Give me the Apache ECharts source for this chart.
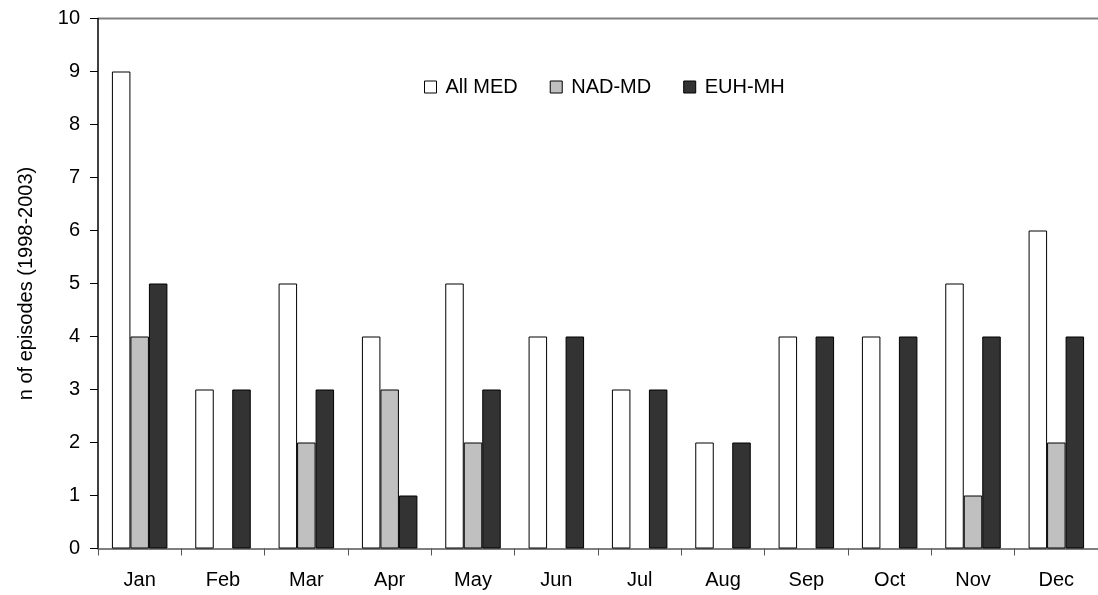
<!DOCTYPE html>
<html><head><meta charset="utf-8">
<script src="https://cdn.jsdelivr.net/npm/echarts@6/dist/echarts.min.js"></script>
<style>html,body{margin:0;padding:0;background:#fff}#c{width:1098px;height:595px}</style>
</head><body><div id="c"></div>
<script>
const categories = ['Jan','Feb','Mar','Apr','May','Jun','Jul','Aug','Sep','Oct','Nov','Dec'];
const allMed = [9,3,5,4,5,4,3,2,4,4,5,6];
const nadMd  = [4,0,2,3,2,0,0,0,0,0,1,2];
const euhMh  = [5,3,3,1,3,4,3,2,4,4,4,4];
const seriesNames = ['All MED','NAD-MD','EUH-MH'];
const yTicks = [0,1,2,3,4,5,6,7,8,9,10];

const font = 'Liberation Sans, Arial, sans-serif';
const chart = echarts.init(document.getElementById('c'), null, {renderer:'canvas'});
function bar(name, data, color){
  return {name, type:'bar', data:data.map(v=>v===0?null:v), barWidth:18.5, barGap:'0%',
    itemStyle:{color, borderColor:'#000', borderWidth:1}, animation:false};
}
chart.setOption({
  animation:false,
  legend:{top:72, left:419, itemWidth:12, itemHeight:12, itemGap:32,
    icon:'rect',
    textStyle:{fontFamily:font, fontSize:20, color:'#000', padding:[0,0,0,4]},
    data:seriesNames.map(n=>({name:n, itemStyle:{borderColor:'#000', borderWidth:1}}))},
  grid:{left:98, top:18.5, width:1008, height:530, show:false},
  graphic:[{type:'line', shape:{x1:98,y1:18.5,x2:1098,y2:18.5}, style:{stroke:'#808080', lineWidth:2}}],
  xAxis:{type:'category', data:categories,
    axisLine:{lineStyle:{color:'#555', width:1.5}},
    axisTick:{show:true, length:7, inside:false, alignWithLabel:false, lineStyle:{color:'#555'}},
    axisLabel:{fontFamily:font, fontSize:20, color:'#000', margin:22}},
  yAxis:{type:'value', min:0, max:10, interval:1,
    name:'n of episodes (1998-2003)', nameLocation:'middle', nameGap:62,
    nameTextStyle:{fontFamily:font, fontSize:20, color:'#000'},
    axisLine:{show:true, lineStyle:{color:'#000', width:1.5}},
    axisTick:{show:true, length:8, lineStyle:{color:'#000'}},
    splitLine:{show:false},
    axisLabel:{fontFamily:font, fontSize:20, color:'#000', margin:18,
      formatter:v=>yTicks.includes(v)?String(v):''}},
  series:[bar(seriesNames[0], allMed, '#ffffff'), bar(seriesNames[1], nadMd, '#c0c0c0'), bar(seriesNames[2], euhMh, '#333333')]
});
</script></body></html>
